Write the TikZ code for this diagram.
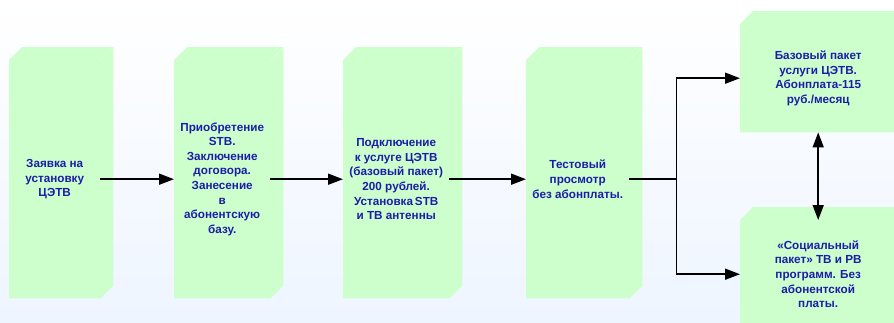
\documentclass[tikz,border=0pt]{standalone}
\usepackage{fontspec}
\setmainfont{Liberation Sans}
\usetikzlibrary{arrows.meta,calc,backgrounds}
\definecolor{panelgreen}{RGB}{204,255,204}
\definecolor{panelhi}{RGB}{222,255,222}
\definecolor{textblue}{RGB}{28,28,170}
\definecolor{bgblue}{RGB}{238,245,255}
\tikzset{
  panel/.style={rectangle, inner sep=0pt, anchor=north west,
    align=center, text=textblue, font=\fontsize{11.7}{14.6}\selectfont\bfseries},
  arr/.style={line width=1.6pt, -{Triangle[length=15pt,width=11pt]}},
  darr/.style={line width=1.6pt, {Triangle[length=15pt,width=11pt]}-{Triangle[length=15pt,width=11pt]}},
  plainline/.style={line width=1.6pt}
}
\begin{document}
\begin{tikzpicture}[x=1pt,y=-1pt]
\useasboundingbox (0,0) rectangle (894,322);
\node[panel, minimum width=91pt, minimum height=238pt] (b1) at (9,60) {Заявка на\\установку\\ЦЭТВ};
\node[panel, minimum width=96pt, minimum height=238pt] (b2) at (174,60) {Приобретение\\STB.\\Заключение\\договора.\\Занесение\\в\\абонентскую\\базу.};
\node[panel, minimum width=106pt, minimum height=238pt] (b3) at (343,60) {Подключение\\к услуге ЦЭТВ\\(базовый пакет)\\200 рублей.\\Установка\,STB\\и ТВ антенны};
\node[panel, minimum width=103pt, minimum height=238pt] (b4) at (526,60) {Тестовый\\просмотр\\без абонплаты.};
\node[panel, minimum width=156pt, minimum height=108pt] (b5) at (740,24) {Базовый пакет\\услуги ЦЭТВ.\\Абонплата-115\\руб./месяц};
\node[panel, minimum width=156pt, minimum height=108pt] (b6) at (740,220) {«Социальный\\пакет» ТВ и РВ\\программ. Без\\абонентской\\платы.};
\begin{scope}[on background layer]
\shade[top color=white, bottom color=bgblue] (0,0) rectangle (894,322);
\foreach \b in {b1,b2,b3,b4,b5,b6}{
  \fill[panelgreen] (\b.south west) -- (\b.north west) -- ($(\b.north west)+(13,-13)$) -- ($(\b.north east)+(13,-13)$)
    -- ($(\b.south east)+(13,-13)$) -- (\b.south east) -- cycle;
  \draw[panelhi, line width=0.7pt] (\b.north east) -- ($(\b.north east)+(13,-13)$);
}
\end{scope}
\draw[arr] (b1.east) -- (b2.west);
\draw[arr] (b2.east) -- (b3.west);
\draw[arr] (b3.east) -- (b4.west);
\draw[plainline] (b4.east) -- ++(47,0) coordinate (j);
\draw[arr] (j) |- (b5.west);
\draw[arr] (j) |- (b6.west);
\draw[darr] (b5.south) -- (b6.north);
\end{tikzpicture}
\end{document}
